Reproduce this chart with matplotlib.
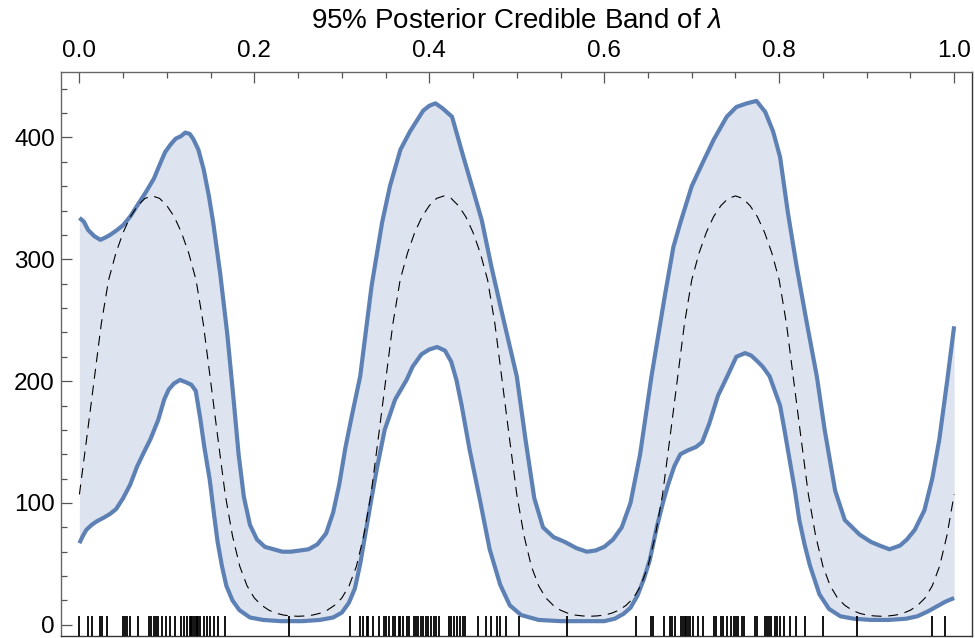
import numpy as np
import matplotlib.pyplot as plt
from matplotlib.ticker import MultipleLocator

plt.rcParams['font.family'] = 'sans-serif'
plt.rcParams['font.sans-serif'] = ['Liberation Sans', 'DejaVu Sans']
plt.rcParams['mathtext.fontset'] = 'custom'
plt.rcParams['mathtext.it'] = 'Liberation Sans:italic'
plt.rcParams['mathtext.rm'] = 'Liberation Sans'

# Upper 97.5% quantile of lambda(t)
upper_x = [0.000, 0.005, 0.010, 0.017, 0.024, 0.030, 0.035, 0.043, 0.050, 0.058,
           0.066, 0.075, 0.085, 0.092, 0.098, 0.104, 0.110, 0.116, 0.121, 0.126,
           0.130, 0.136, 0.142, 0.148, 0.153, 0.161, 0.169, 0.176, 0.182, 0.188,
           0.195, 0.203, 0.212, 0.222, 0.232, 0.242, 0.252, 0.262, 0.272, 0.282,
           0.290, 0.297, 0.304, 0.311, 0.321, 0.334, 0.346, 0.355, 0.367, 0.378,
           0.393, 0.400, 0.407, 0.415, 0.426, 0.439, 0.450, 0.460, 0.471, 0.485,
           0.500, 0.510, 0.520, 0.530, 0.542, 0.555, 0.568, 0.580, 0.590, 0.600,
           0.610, 0.620, 0.630, 0.641, 0.654, 0.669, 0.679, 0.687, 0.700, 0.713,
           0.725, 0.740, 0.751, 0.763, 0.774, 0.784, 0.793, 0.801, 0.810, 0.820,
           0.831, 0.843, 0.852, 0.864, 0.875, 0.892, 0.905, 0.915, 0.926, 0.938,
           0.946, 0.955, 0.966, 0.975, 0.983, 0.992, 1.000]
upper_y = [334, 331, 324, 319, 316, 318, 320, 324, 328, 335,
           344, 354, 366, 378, 388, 394, 399, 401, 404, 403,
           399, 390, 374, 352, 330, 288, 239, 187, 140, 105,
           82, 70, 64, 62, 60, 60, 61, 62, 66, 75,
           92, 115, 145, 170, 204, 278, 330, 360, 390, 405,
           422, 426, 428, 424, 417, 384, 357, 332, 294, 250,
           204, 152, 104, 80, 72, 68, 63, 60, 61, 64,
           70, 80, 100, 140, 204, 269, 310, 330, 360, 380,
           398, 417, 425, 428, 430, 421, 405, 384, 338, 294,
           250, 204, 160, 110, 86, 74, 68, 65, 62, 65,
           70, 78, 94, 120, 152, 200, 245]

# Lower 2.5% quantile of lambda(t)
lower_x = [0.000, 0.004, 0.008, 0.014, 0.020, 0.028, 0.035, 0.042, 0.050, 0.058,
           0.066, 0.074, 0.081, 0.090, 0.097, 0.102, 0.108, 0.115, 0.122, 0.128,
           0.133, 0.138, 0.143, 0.149, 0.154, 0.158, 0.163, 0.168, 0.175, 0.183,
           0.195, 0.210, 0.230, 0.255, 0.275, 0.290, 0.300, 0.308, 0.315, 0.321,
           0.327, 0.333, 0.340, 0.349, 0.361, 0.374, 0.381, 0.391, 0.400, 0.409,
           0.418, 0.425, 0.431, 0.437, 0.446, 0.458, 0.469, 0.481, 0.492, 0.505,
           0.525, 0.550, 0.575, 0.600, 0.612, 0.622, 0.630, 0.638, 0.645, 0.652,
           0.660, 0.667, 0.673, 0.680, 0.687, 0.695, 0.705, 0.712, 0.720, 0.730,
           0.742, 0.751, 0.761, 0.768, 0.774, 0.781, 0.789, 0.796, 0.801, 0.806,
           0.812, 0.818, 0.823, 0.829, 0.835, 0.846, 0.857, 0.870, 0.885, 0.905,
           0.925, 0.945, 0.958, 0.970, 0.980, 0.990, 1.000]
lower_y = [67, 73, 78, 82, 85, 88, 91, 95, 104, 115,
           130, 142, 152, 168, 185, 193, 198, 201, 199, 197,
           192, 170, 145, 119, 90, 68, 48, 32, 20, 12,
           6, 4, 3, 3, 4, 6, 10, 18, 30, 50,
           75, 100, 128, 160, 185, 201, 212, 222, 226, 228,
           225, 216, 201, 180, 144, 102, 62, 33, 16, 8,
           4, 3, 3, 3, 5, 9, 14, 24, 37, 53,
           80, 100, 115, 130, 140, 143, 146, 150, 165, 188,
           206, 220, 223, 221, 217, 212, 204, 190, 180, 160,
           135, 110, 86, 66, 49, 25, 13, 7, 5, 4,
           4, 5, 7, 11, 15, 19, 22]

# True intensity, sampled every 1/120
true_y = [107, 153, 200, 247, 283, 305, 322, 335, 344, 350,
          352, 350, 344, 335, 322, 305, 283, 247, 200, 153,
          107, 73, 48, 32, 22, 16, 12, 9.5, 8, 7.3,
          7, 7.3, 8, 9.5, 12, 16, 22, 32, 48, 73,
          107, 153, 200, 247, 283, 305, 322, 335, 344, 350,
          352, 350, 344, 335, 322, 305, 283, 247, 200, 153,
          107, 73, 48, 32, 22, 16, 12, 9.5, 8, 7.3,
          7, 7.3, 8, 9.5, 12, 16, 22, 32, 48, 73,
          107, 153, 200, 247, 283, 305, 322, 335, 344, 350,
          352, 350, 344, 335, 322, 305, 283, 247, 200, 153,
          107, 73, 48, 32, 22, 16, 12, 9.5, 8, 7.3,
          7, 7.3, 8, 9.5, 12, 16, 22, 32, 48, 73,
          107]
true_x = np.linspace(0, 1, len(true_y))

# Observed event times (rug)
events = [0.000, 0.010, 0.014, 0.023, 0.026, 0.031, 0.050, 0.052, 0.054, 0.058,
          0.067, 0.080, 0.082, 0.085, 0.088, 0.090, 0.094, 0.099, 0.104, 0.109,
          0.116, 0.120, 0.123, 0.126, 0.128, 0.129, 0.131, 0.133, 0.135, 0.136,
          0.138, 0.143, 0.146, 0.149, 0.154, 0.158, 0.167, 0.240, 0.309, 0.321,
          0.324, 0.329, 0.330, 0.336, 0.342, 0.348, 0.351, 0.354, 0.358, 0.361,
          0.365, 0.367, 0.370, 0.374, 0.377, 0.382, 0.385, 0.387, 0.390, 0.393,
          0.396, 0.399, 0.402, 0.405, 0.408, 0.411, 0.422, 0.425, 0.428, 0.432,
          0.435, 0.438, 0.441, 0.456, 0.465, 0.470, 0.477, 0.481, 0.488, 0.502,
          0.557, 0.636, 0.654, 0.656, 0.668, 0.675, 0.677, 0.681, 0.688, 0.690,
          0.692, 0.694, 0.696, 0.698, 0.702, 0.707, 0.713, 0.725, 0.728, 0.733,
          0.736, 0.740, 0.745, 0.748, 0.751, 0.753, 0.757, 0.760, 0.772, 0.775,
          0.784, 0.786, 0.788, 0.791, 0.795, 0.798, 0.801, 0.806, 0.812, 0.819,
          0.829, 0.850, 0.889, 0.975, 0.989]

line_col = '#5E81B5'
fill_col = '#DDE3EF'

fig = plt.figure(figsize=(9.75, 6.38), dpi=100)
ax = fig.add_axes([0.0626, 0.0031, 0.9344, 0.884])

# band: fill between the two quantile curves on a common grid
grid = np.union1d(upper_x, lower_x)
ax.fill_between(grid, np.interp(grid, lower_x, lower_y), np.interp(grid, upper_x, upper_y),
                color=fill_col, linewidth=0, zorder=1)
ax.plot(upper_x, upper_y, color=line_col, lw=3, solid_capstyle='butt', zorder=3)
ax.plot(lower_x, lower_y, color=line_col, lw=3, solid_capstyle='butt', zorder=3)
ax.plot(true_x, true_y, color='black', lw=0.8, linestyle=(0, (9, 6)), zorder=4)

ymin, ymax = -9.2, 453.7
ax.vlines(events, ymin, 7.5, color='black', lw=1.3, zorder=5)

ax.set_xlim(-0.021, 1.0205)
ax.set_ylim(ymin, ymax)

# frame ticks only on top and left, pointing inward
ax.xaxis.tick_top()
ax.xaxis.set_major_locator(MultipleLocator(0.2))
ax.xaxis.set_minor_locator(MultipleLocator(0.05))
ax.xaxis.set_major_formatter(lambda v, p: f'{v:.1f}')
ax.yaxis.set_major_locator(MultipleLocator(100))
ax.yaxis.set_minor_locator(MultipleLocator(20))
ax.tick_params(which='both', direction='in', top=True, bottom=False, left=True, right=False,
               color='#555555', width=0.9, labelsize=17.5)
ax.tick_params(axis='x', pad=7)
ax.tick_params(axis='y', pad=4.5)
ax.tick_params(which='major', length=8)
ax.tick_params(which='minor', length=4.5)

for side in ['top', 'left']:
    ax.spines[side].set_color('#666666')
for side in ['bottom', 'right']:
    ax.spines[side].set_color('#333333')
for s in ax.spines.values():
    s.set_linewidth(1.0)

fig.text(0.5298, 0.967, r'95% Posterior Credible Band of $\lambda$', ha='center', va='center',
         fontsize=20)

fig.savefig('out.png', dpi=100)
